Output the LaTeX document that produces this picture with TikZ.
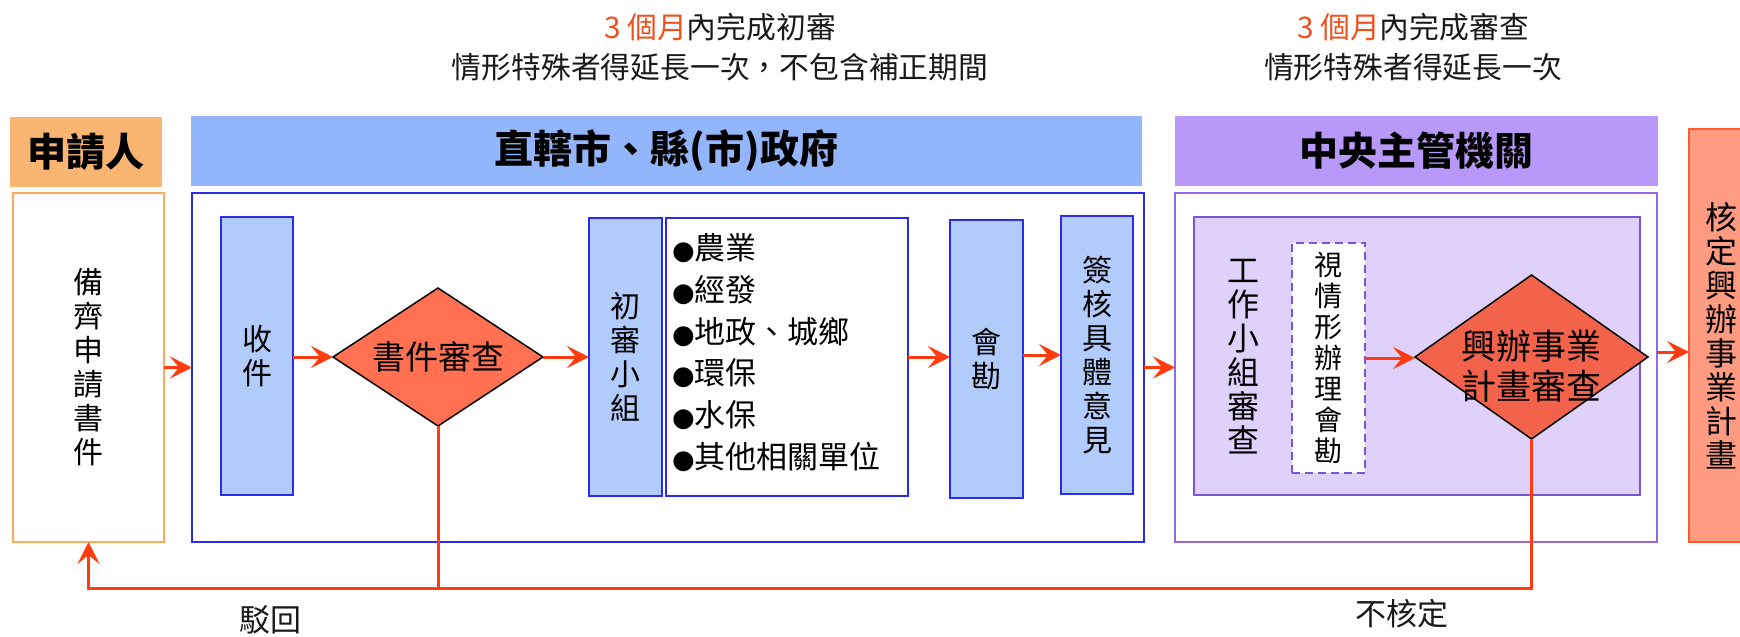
\documentclass[tikz,border=0pt]{standalone}
\usepackage{fontspec}
\setmainfont{Noto Sans CJK TC}
\newfontfamily\symfont{DejaVu Sans}
\usetikzlibrary{shapes.geometric,arrows.meta}
\definecolor{hdrA}{HTML}{FAB572}
\definecolor{brdA}{HTML}{FFAA5A}
\definecolor{hdrB}{HTML}{92B5FB}
\definecolor{brdB}{HTML}{2B2BF0}
\definecolor{fillB}{HTML}{B1CBFB}
\definecolor{hdrC}{HTML}{B899F9}
\definecolor{brdC}{HTML}{8E6AE4}
\definecolor{fillC}{HTML}{DFD1FB}
\definecolor{brdCi}{HTML}{7A55DA}
\definecolor{diaA}{HTML}{FF7150}
\definecolor{diaB}{HTML}{F3634C}
\definecolor{fin}{HTML}{FF9B80}
\definecolor{finB}{HTML}{FF5A2E}
\definecolor{flow}{HTML}{FF3C10}
\definecolor{accent}{HTML}{F0501E}
\definecolor{txt}{HTML}{1A1A1A}
\newcommand\mybul{{\symfont\fontsize{26}{26}\selectfont ●}}
\begin{document}
\begin{tikzpicture}[x=1pt,y=-1pt,
  box/.style={draw, inner sep=0pt, outer sep=0pt, line width=2pt},
  hdr/.style={inner sep=0pt, outer sep=0pt, font=\fontsize{39}{42}\selectfont\bfseries},
  vt/.style={align=center, font=\fontsize{30}{34}\selectfont},
  dia/.style={diamond, draw=black, line width=1.5pt, inner sep=0pt, outer sep=0pt, align=center},
  flowline/.style={draw=flow, line width=3pt},
  arr/.style={flowline, -{Stealth[length=22pt, width=22pt, inset=9pt]}},
  note/.style={inner sep=0pt, text=txt, font=\fontsize{29.8}{34}\selectfont},
  lbl/.style={inner sep=0pt, text=txt, font=\fontsize{31}{34}\selectfont}
]
\clip (0,0) rectangle (1740,637);
\fill[white] (0,0) rectangle (1740,637);

% headers
\node[hdr, fill=hdrA, minimum width=152pt, minimum height=70pt] (hA) at (86,152) {申請人};
\node[hdr, fill=hdrB, minimum width=951pt, minimum height=70pt] (hB) at (666.5,151) {直轄市、縣(市)政府};
\node[hdr, fill=hdrC, minimum width=483pt, minimum height=70pt] (hC) at (1416,150.5) {中央主管機關};

% top notes
\node[note] (n1) at (720,27) {\textcolor{accent}{3 個月}內完成初審};
\node[note] (n2) at (720,67) {情形特殊者得延長一次，不包含補正期間};
\node[note] (n3) at (1413,27) {\textcolor{accent}{3 個月}內完成審查};
\node[note] (n4) at (1413,67) {情形特殊者得延長一次};

% outer boxes
\node[box, draw=brdA, fill=white, minimum width=151pt, minimum height=349pt, vt] (docs) at (88.5,367.5) {備\\齊\\申\\請\\書\\件};
\node[box, draw=brdB, minimum width=952pt, minimum height=349pt] (cityO) at (668,367.5) {};
\node[box, draw=brdC, minimum width=482pt, minimum height=349pt] (centO) at (1416,367.5) {};

% city process
\node[box, draw=brdB, fill=fillB, minimum width=72pt, minimum height=278pt, vt] (recv) at (257,356) {收\\件};
\node[dia, fill=diaA, minimum width=210pt, minimum height=138pt, aspect=1.52, font=\fontsize{33}{36}\selectfont] (d1) at (438,357) {書件審查};
\node[box, draw=brdB, fill=fillB, minimum width=73pt, minimum height=278pt, vt] (team) at (625.5,357) {初\\審\\小\\組};
\node[box, draw=brdB, fill=white, minimum width=242pt, minimum height=278pt] (units) at (787,357) {};
\node[anchor=west, align=left, inner sep=0pt, font=\fontsize{31}{41.7}\selectfont] (unitlist) at (672,352.5)
  {\mybul 農業\\\mybul 經發\\\mybul 地政、城鄉\\\mybul 環保\\\mybul 水保\\\mybul 其他相關單位};
\node[box, draw=brdB, fill=fillB, minimum width=73pt, minimum height=278pt, vt] (site) at (986.5,359) {會\\勘};
\node[box, draw=brdB, fill=fillB, minimum width=72pt, minimum height=278pt, vt] (sign) at (1097,355) {簽\\核\\具\\體\\意\\見};

% central process
\node[box, draw=brdCi, fill=fillC, minimum width=446pt, minimum height=278pt] (work) at (1417,356) {};
\node[align=center, inner sep=0pt, font=\fontsize{32}{34}\selectfont] (worktxt) at (1243,357) {工\\作\\小\\組\\審\\查};
\node[box, draw=brdCi, fill=white, line width=1.5pt, dash pattern=on 8pt off 5pt, minimum width=73pt, minimum height=230pt, align=center, font=\fontsize{28}{31}\selectfont] (visit) at (1328.5,358) {視\\情\\形\\辦\\理\\會\\勘};
\node[dia, fill=diaB, minimum width=233pt, minimum height=164pt, aspect=1.42] (d2) at (1531.5,357) {};
\node[align=center, inner sep=0pt, font=\fontsize{35}{40}\selectfont] (d2txt) at (1531.5,366) {興辦事業\\計畫審查};

% final
\node[box, draw=finB, fill=fin, minimum width=64pt, minimum height=413pt, align=center, font=\fontsize{32}{34}\selectfont] (final) at (1721,335.5) {核\\定\\興\\辦\\事\\業\\計\\畫};

% arrows
\draw[arr] (docs.east) -- (cityO.west);
\draw[arr] (recv.east |- d1.west) -- (d1.west);
\draw[arr] (d1.east) -- (d1.east -| team.west);
\draw[arr] (units.east) -- (units.east -| site.west);
\draw[arr] (sign.west -| site.east) -- (sign.west);
\draw[arr] (cityO.east) -- (centO.west);
\draw[arr] (visit.east) -- (visit.east -| d2.west);
\coordinate (outR) at ([yshift=15.5pt]centO.east);
\draw[arr] (outR) -- (outR -| final.west);

% feedback
\coordinate (fb) at (0,588);
\draw[flowline] (d1.south) -- (d1.south |- fb);
\draw[arr] (d2.south) |- (docs.south |- fb) -- (docs.south);

\node[lbl] (reject) at (270,620) {駁回};
\node[lbl] (deny) at (1402,614) {不核定};
\end{tikzpicture}
\end{document}
